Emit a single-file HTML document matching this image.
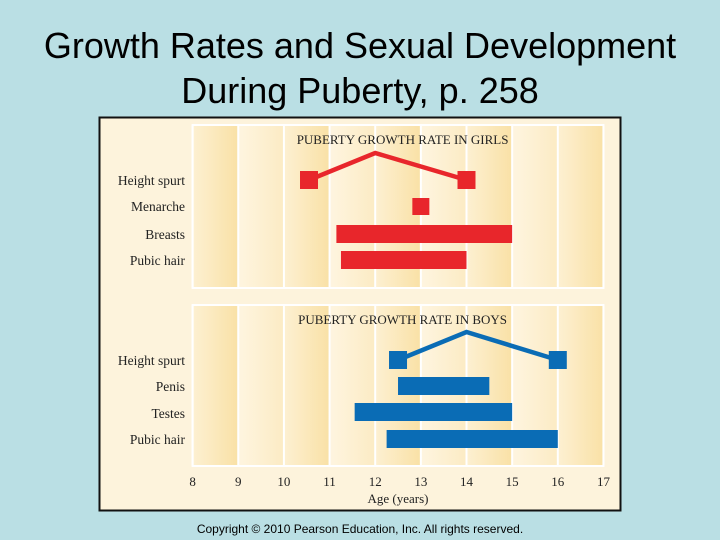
<!DOCTYPE html>
<html><head><meta charset="utf-8"><style>
html,body{margin:0;padding:0;}
body{width:720px;height:540px;background:#badfe4;position:relative;overflow:hidden;font-family:"Liberation Sans",sans-serif;}
.title{position:absolute;left:0;width:720px;text-align:center;font-size:36px;color:#000;line-height:1;}
.copy{position:absolute;left:0;width:720px;top:522px;text-align:center;font-size:12px;color:#000;}
svg text.ser{font-family:"Liberation Serif",serif;fill:#222;}
</style></head><body>
<div class="title" style="top:28px">Growth Rates and Sexual Development</div>
<div class="title" style="top:73px">During Puberty, p. 258</div>
<svg id="chart" width="720" height="540" style="position:absolute;left:0;top:0">
<defs>
<linearGradient id="dk" x1="0" x2="1"><stop offset="0" stop-color="#fdf0d2"/><stop offset="1" stop-color="#f9e1a6"/></linearGradient>
<linearGradient id="lt" x1="0" x2="1"><stop offset="0" stop-color="#fef5e0"/><stop offset="1" stop-color="#fcebc4"/></linearGradient>
</defs>
<rect x="99.5" y="117.5" width="521" height="393" fill="#fdf3dc" stroke="#111" stroke-width="2"/>
<g id="g"></g>
</svg>
<div class="copy">Copyright © 2010 Pearson Education, Inc. All rights reserved.</div>
<script>
const ticks=[8,9,10,11,12,13,14,15,16,17];
const girlLabels=["Height spurt","Menarche","Breasts","Pubic hair"];
const girlSpurt=[10.55,12,14.0];
const girlMenarche=[13.0];
const girlBars=[[11.15,15.0],[11.25,14.0]];
const boyLabels=["Height spurt","Penis","Testes","Pubic hair"];
const boySpurt=[12.5,14,16.0];
const boyBars=[[12.5,14.5],[11.55,15.0],[12.25,16.0]];
const x=a=>192.6+(a-8)*45.65;
const ns="http://www.w3.org/2000/svg";
const g=document.getElementById('g');
function mk(t,at,p){const e=document.createElementNS(ns,t);for(const k in at)e.setAttribute(k,at[k]);(p||g).appendChild(e);return e;}
function panel(y0,y1,title,nm){
  for(let i=0;i<ticks.length-1;i++){
    const r=mk('rect',{x:x(ticks[i]),y:y0,width:x(ticks[i+1])-x(ticks[i]),height:y1-y0,fill:i%2==0?'url(#dk)':'url(#lt)'});
    
    
  }
  for(let i=0;i<ticks.length;i++){
    const l=mk('line',{x1:x(ticks[i]),x2:x(ticks[i]),y1:y0,y2:y1,stroke:'#fff','stroke-width':2});
    
    
  }
  mk('rect',{x:x(8),y:y0,width:x(17)-x(8),height:y1-y0,fill:'none',stroke:'#fff','stroke-width':2});
  const t=mk('text',{x:x(12.6),y:y0+19,'text-anchor':'middle','font-size':13,class:'ser'});
  t.textContent=title;
  
  
}
function labels(arr,ys,nm){arr.forEach((s,i)=>{const t=mk('text',{x:185,y:ys[i]+5,'text-anchor':'end','font-size':13.5,class:'ser'});t.textContent=s;
  
  });}
function spurt(v,yb,yp,col,nm){
  const pl=mk('polyline',{points:`${x(v[0])},${yb} ${x(v[1])},${yp} ${x(v[2])},${yb}`,fill:'none',stroke:col,'stroke-width':4.5});
  
  
  [v[0],v[2]].forEach(a=>{const r=mk('rect',{x:x(a)-9,y:yb-9,width:18,height:18,fill:col});
    
    });
}
function bars(arr,ys,col,nm){arr.forEach((b,i)=>{const r=mk('rect',{x:x(b[0]),y:ys[i]-9,width:x(b[1])-x(b[0]),height:18,fill:col});
  
  });}
const red='#e8262b',blue='#0a6cb5';
panel(125,288,'PUBERTY GROWTH RATE IN GIRLS','girls');
labels(girlLabels,[180,206,234,260],'girls');
spurt(girlSpurt,180,153,red,'girls');
girlMenarche.forEach(a=>{const r=mk('rect',{x:x(a)-8.5,y:198,width:17,height:17,fill:red});
  
  });
bars(girlBars,[234,260],red,'girls');
panel(305,466,'PUBERTY GROWTH RATE IN BOYS','boys');
labels(boyLabels,[360,386,413,439],'boys');
spurt(boySpurt,360,332,blue,'boys');
bars(boyBars,[386,412,439],blue,'boys');
ticks.forEach(a=>{const t=mk('text',{x:x(a),y:486,'text-anchor':'middle','font-size':13,class:'ser'});t.textContent=a;
  
  });
const xt=mk('text',{x:x(12.5),y:503,'text-anchor':'middle','font-size':13,class:'ser'});xt.textContent='Age (years)';


</script>
</body></html>
